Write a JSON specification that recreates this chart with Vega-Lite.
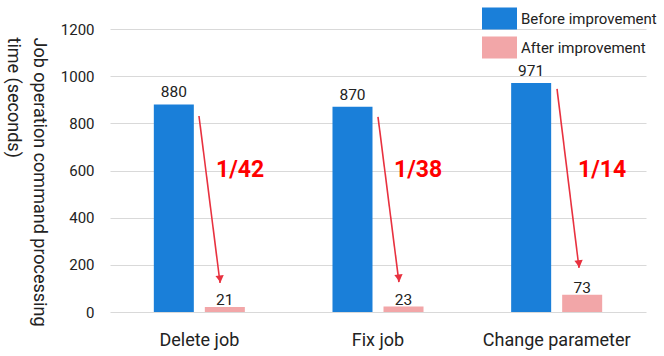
{
  "$schema": "https://vega.github.io/schema/vega-lite/v6.json",
  "width": 536,
  "height": 283,
  "autosize": {"type": "none"},
  "padding": {"left": 110, "top": 29, "right": 18, "bottom": 44},
  "background": "white",
  "config": {
    "view": {"stroke": null},
    "font": "Roboto",
    "axis": {"labelFont": "Roboto", "titleFont": "Roboto"},
    "legend": {"labelFont": "Roboto"}
  },
  "datasets": {
    "timings": [
      {"task": "Delete job", "phase": "Before improvement", "seconds": 880},
      {"task": "Delete job", "phase": "After improvement", "seconds": 21},
      {"task": "Fix job", "phase": "Before improvement", "seconds": 870},
      {"task": "Fix job", "phase": "After improvement", "seconds": 23},
      {"task": "Change parameter", "phase": "Before improvement", "seconds": 971},
      {"task": "Change parameter", "phase": "After improvement", "seconds": 73}
    ],
    "reductions": [
      {"task": "Delete job", "ratio": "1/42", "fromPos": 0.498, "fromSec": 831, "toPos": 0.616, "toSec": 123, "labelPos": 0.728, "labelSec": 602},
      {"task": "Fix job", "ratio": "1/38", "fromPos": 1.5, "fromSec": 827, "toPos": 1.617, "toSec": 127, "labelPos": 1.724, "labelSec": 602},
      {"task": "Change parameter", "ratio": "1/14", "fromPos": 2.502, "fromSec": 946, "toPos": 2.625, "toSec": 187, "labelPos": 2.754, "labelSec": 602}
    ]
  },
  "layer": [
    {
      "data": {"name": "timings"},
      "encoding": {
        "x": {
          "field": "task",
          "type": "nominal",
          "sort": ["Delete job", "Fix job", "Change parameter"],
          "scale": {"paddingInner": 0, "paddingOuter": 0},
          "axis": {
            "title": null,
            "labelAngle": 0,
            "labelFontSize": 18,
            "labelColor": "#222",
            "labelPadding": 19,
            "ticks": false,
            "tickSize": 0,
            "domain": false,
            "grid": false
          }
        },
        "xOffset": {
          "field": "phase",
          "type": "nominal",
          "sort": ["Before improvement", "After improvement"],
          "scale": {"paddingInner": 0.2157, "paddingOuter": 0.859}
        },
        "y": {
          "field": "seconds",
          "type": "quantitative",
          "scale": {"domain": [0, 1200], "nice": false},
          "axis": {
            "values": [0, 200, 400, 600, 800, 1000, 1200],
            "format": "d",
            "title": ["Job operation command processing", "time (seconds)"],
            "titleFontSize": 18,
            "titleFontWeight": "normal",
            "titleColor": "#222",
            "titleAngle": 90,
            "titleAlign": "left",
            "titleBaseline": "alphabetic",
            "titleX": -77,
            "titleY": 8,
            "titleLineHeight": 26,
            "labelFontSize": 15,
            "labelColor": "#222",
            "labelPadding": 16,
            "ticks": false,
            "tickSize": 0,
            "domain": false,
            "grid": true,
            "gridColor": "#d9d9d9",
            "gridWidth": 1
          }
        }
      },
      "layer": [
        {
          "mark": {"type": "bar"},
          "encoding": {
            "color": {
              "field": "phase",
              "type": "nominal",
              "sort": ["Before improvement", "After improvement"],
              "scale": {"domain": ["Before improvement", "After improvement"], "range": ["#1a7fd9", "#f2a6a8"]},
              "legend": {
                "orient": "none",
                "legendX": 372,
                "legendY": -28,
                "title": null,
                "symbolType": "M-1,-0.63H1V0.63H-1Z",
                "symbolSize": 1225,
                "symbolStrokeWidth": 0,
                "symbolOpacity": 1,
                "labelFontSize": 15,
                "labelColor": "#222",
                "labelOffset": 4,
                "rowPadding": -7,
                "padding": 0
              }
            }
          }
        },
        {
          "transform": [{"filter": "datum.phase === 'Before improvement'"}],
          "mark": {"type": "text", "fontSize": 15.5, "color": "#222", "baseline": "alphabetic", "dy": -7},
          "encoding": {"text": {"field": "seconds", "type": "quantitative"}}
        },
        {
          "transform": [{"filter": "datum.phase === 'After improvement'"}],
          "mark": {"type": "text", "fontSize": 15.5, "color": "#222", "baseline": "alphabetic", "dy": -2},
          "encoding": {"text": {"field": "seconds", "type": "quantitative"}}
        }
      ]
    },
    {
      "data": {"name": "reductions"},
      "layer": [
        {
          "mark": {"type": "rule", "color": "#e8313f", "strokeWidth": 1.6},
          "encoding": {
            "x": {"field": "fromPos", "type": "quantitative", "scale": {"domain": [0, 3], "nice": false, "zero": false}, "axis": null},
            "x2": {"field": "toPos"},
            "y": {"field": "fromSec", "type": "quantitative", "axis": null},
            "y2": {"field": "toSec"}
          }
        },
        {
          "mark": {"type": "point", "shape": "triangle-down", "filled": true, "color": "#e8313f", "opacity": 1, "size": 70, "angle": 353, "yOffset": -4},
          "encoding": {
            "x": {"field": "toPos", "type": "quantitative", "scale": {"domain": [0, 3], "nice": false, "zero": false}, "axis": null},
            "y": {"field": "toSec", "type": "quantitative", "axis": null}
          }
        },
        {
          "mark": {"type": "text", "fontSize": 23, "fontWeight": "bold", "color": "#ff0000", "align": "center", "baseline": "middle"},
          "encoding": {
            "x": {"field": "labelPos", "type": "quantitative", "scale": {"domain": [0, 3], "nice": false, "zero": false}, "axis": null},
            "y": {"field": "labelSec", "type": "quantitative", "axis": null},
            "text": {"field": "ratio", "type": "nominal"}
          }
        }
      ]
    }
  ],
  "resolve": {"scale": {"x": "independent"}, "axis": {"y": "independent"}}
}
